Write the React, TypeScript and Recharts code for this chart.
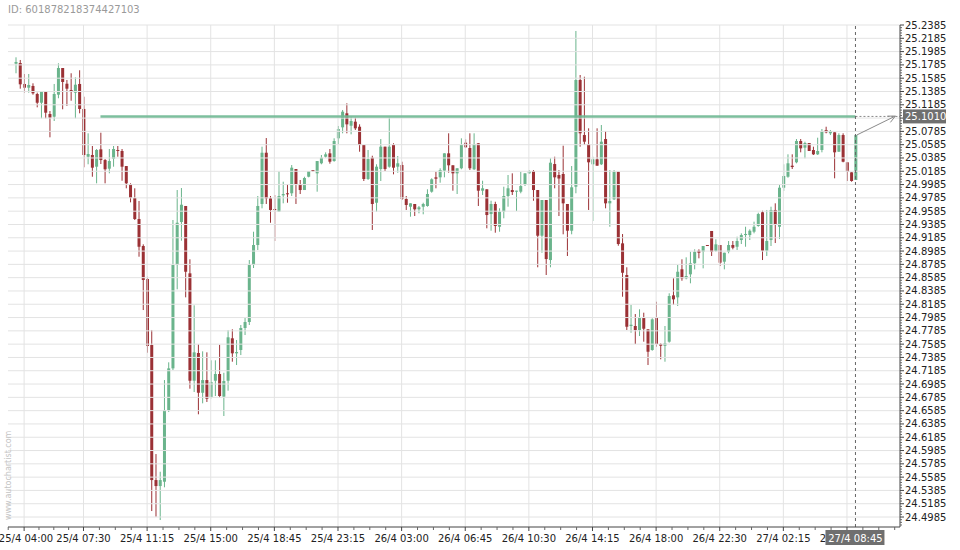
import React from "react";
import { ComposedChart, Bar, XAxis, YAxis, ReferenceLine } from "recharts";

// ── Data (15 min candles) ────────────────────────────────────

const opens = [
  25.1803, 25.1813, 25.1498, 25.1442, 25.1468, 25.1347, 25.1216, 25.1377, 25.1046, 25.1006,
  25.1337, 25.1738, 25.1502, 25.1407, 25.1367, 25.1498, 25.1122, 25.0404, 25.043, 25.0254,
  25.0515, 25.0354, 25.0224, 25.0374, 25.0505, 25.049, 25.0264, 24.9993, 24.9783, 24.9467,
  24.9061, 24.8565, 24.7572, 24.5541, 24.5451, 24.5516, 24.6594, 24.7221, 24.8775, 24.9422,
  24.9663, 24.865, 24.7035, 24.7452, 24.6854, 24.7045, 24.679, 24.7035, 24.7136, 24.6794,
  24.7035, 24.7673, 24.7447, 24.7497, 24.7828, 24.7918, 24.8775, 24.9076, 24.9693, 25.0464,
  24.9778, 24.9617, 24.9577, 24.9823, 24.9854, 24.9854, 25.0219, 24.9993, 24.9903, 25.0103,
  25.0204, 25.0154, 25.0305, 25.0404, 25.0455, 25.0339, 25.0681, 25.0846, 25.1057, 25.087,
  25.0931, 25.0855, 25.058, 25.0069, 25.0389, 24.9712, 25.0219, 25.0555, 25.0254, 25.058,
  25.0254, 25.0279, 24.9768, 24.9652, 24.9693, 24.9613, 24.9652, 24.9663, 24.9878, 25.0094,
  25.0094, 25.0194, 25.0455, 25.0275, 25.0154, 25.023, 25.0615, 25.0535, 25.0215, 25.0606,
  24.9893, 24.9914, 24.9542, 24.9693, 24.9351, 24.9577, 24.9813, 24.9903, 24.9878, 24.9878,
  24.9993, 25.0154, 25.0189, 24.9903, 24.9216, 24.9753, 24.885, 25.0294, 25.0129, 25.0144,
  24.9693, 24.9291, 24.9953, 25.1558, 25.073, 25.0591, 25.029, 25.0365, 25.029, 25.067,
  24.9703, 24.9763, 25.0178, 24.9101, 24.8625, 24.7858, 24.7858, 24.7798, 24.7978, 24.7808,
  24.7497, 24.7978, 24.7587, 24.7561, 24.7622, 24.8319, 24.8289, 24.8711, 24.8575, 24.8635,
  24.8801, 24.899, 24.8975, 24.9076, 24.9287, 24.8986, 24.9076, 24.8825, 24.8975, 24.9076,
  24.905, 24.9151, 24.9226, 24.9226, 24.9276, 24.9362, 24.9568, 24.899, 24.9151, 24.9603,
  24.9351, 24.9938, 25.0103, 25.0269, 25.032, 25.064, 25.054, 25.061, 25.0505, 25.044,
  25.0505, 25.0806, 25.0756, 25.0771, 25.0479, 25.073, 25.032, 25.0169, 25.0054,
];

const highs = [
  25.1899, 25.1859, 25.1648, 25.1648, 25.1508, 25.1367, 25.1377, 25.1377, 25.1091, 25.1498,
  25.1809, 25.1738, 25.1558, 25.1659, 25.1598, 25.1704, 25.1307, 25.0756, 25.0565, 25.052,
  25.0765, 25.0369, 25.052, 25.0565, 25.0565, 25.052, 25.0264, 25.0004, 24.9929, 24.9738,
  24.9086, 24.8599, 24.7798, 24.5932, 24.5666, 24.7045, 24.7312, 24.9452, 24.9903, 24.9933,
  24.9663, 24.8861, 24.8169, 24.7582, 24.7477, 24.7462, 24.7342, 24.7342, 24.7576, 24.7155,
  24.7798, 24.7808, 24.7647, 24.7873, 24.7978, 24.885, 24.9276, 24.9813, 25.0555, 25.0685,
  24.9813, 24.9828, 25.0184, 25.0028, 24.9993, 25.0279, 25.0219, 25.0054, 25.0103, 25.0189,
  25.0204, 25.0339, 25.043, 25.047, 25.052, 25.0681, 25.0866, 25.1107, 25.1207, 25.1006,
  25.0991, 25.0891, 25.058, 25.0505, 25.0419, 25.029, 25.067, 25.0555, 25.0991, 25.0606,
  25.0415, 25.0329, 24.9813, 24.9703, 24.9693, 24.9663, 24.9712, 24.9914, 25.0079, 25.0178,
  25.023, 25.0455, 25.0756, 25.0275, 25.023, 25.0681, 25.0666, 25.0756, 25.0756, 25.0606,
  25.0043, 24.9914, 24.9742, 24.9727, 24.9628, 24.9953, 25.0129, 25.0154, 24.9893, 25.0178,
  25.0154, 25.0204, 25.0204, 24.9903, 24.9753, 24.9753, 25.038, 25.0404, 25.0204, 25.057,
  24.9693, 25.0264, 25.2295, 25.1633, 25.1607, 25.0831, 25.0404, 25.0831, 25.0881, 25.0791,
  25.0204, 25.0204, 25.0178, 24.9241, 24.8741, 24.8174, 24.8038, 24.8109, 24.8058, 24.7808,
  24.7974, 24.8223, 24.7597, 24.7858, 24.835, 24.8575, 24.8775, 24.8861, 24.8891, 24.8975,
  24.9011, 24.9011, 24.9061, 24.9076, 24.9287, 24.9162, 24.9076, 24.896, 24.9136, 24.9136,
  24.9201, 24.9252, 24.9351, 24.9312, 24.9427, 24.9562, 24.9592, 24.9603, 24.9652, 24.9703,
  24.9978, 25.029, 25.044, 25.044, 25.067, 25.067, 25.063, 25.061, 25.0555, 25.069,
  25.0821, 25.0855, 25.0806, 25.0771, 25.0756, 25.0756, 25.032, 25.0169, 25.073,
];

const lows = [
  25.1659, 25.1427, 25.1367, 25.1367, 25.1337, 25.1147, 25.0982, 25.0982, 25.0696, 25.0941,
  25.1283, 25.1117, 25.1167, 25.1246, 25.0982, 25.1057, 25.0245, 25.029, 25.0103, 25.0004,
  25.0294, 25.0004, 25.0154, 25.0254, 25.0404, 25.0043, 24.9929, 24.9718, 24.9452, 24.89,
  24.8098, 24.7456, 24.5075, 24.4989, 24.494, 24.5432, 24.6564, 24.7196, 24.841, 24.9141,
  24.8289, 24.6915, 24.6865, 24.653, 24.6695, 24.6715, 24.677, 24.6805, 24.6785, 24.6504,
  24.6885, 24.7321, 24.7271, 24.7421, 24.7722, 24.7873, 24.873, 24.9001, 24.9628, 24.9693,
  24.9411, 24.9136, 24.9577, 24.9703, 24.9712, 24.9813, 24.9693, 24.9843, 24.9903, 25.0094,
  25.0178, 24.9878, 25.029, 25.0389, 25.0299, 25.0329, 25.0591, 25.0756, 25.0756, 25.0741,
  25.0806, 25.0479, 25.0039, 25.0054, 24.9302, 24.9577, 25.0039, 25.0189, 25.0239, 25.0139,
  25.0163, 24.9753, 24.9603, 24.9502, 24.9512, 24.9553, 24.9538, 24.9652, 24.9863, 24.9929,
  25.0013, 25.0094, 25.0164, 24.9893, 24.9843, 25.0215, 25.0535, 25.0204, 25.0204, 24.9663,
  24.9828, 24.9327, 24.9291, 24.9261, 24.9276, 24.9478, 24.9652, 24.9828, 24.9587, 24.9854,
  24.9963, 25.0144, 24.9742, 24.8741, 24.896, 24.8625, 24.8741, 24.9929, 24.9512, 24.9237,
  24.8911, 24.9237, 24.9854, 25.0555, 25.058, 24.9603, 24.9437, 25.0269, 25.0279, 24.9628,
  24.9351, 24.9753, 24.9065, 24.8298, 24.7798, 24.7757, 24.7587, 24.7707, 24.7622, 24.7271,
  24.7486, 24.7546, 24.7357, 24.7321, 24.7607, 24.8174, 24.8159, 24.8539, 24.856, 24.85,
  24.871, 24.8876, 24.8725, 24.9061, 24.8911, 24.8975, 24.876, 24.871, 24.8951, 24.9011,
  24.9001, 24.9091, 24.905, 24.9151, 24.9252, 24.9351, 24.885, 24.8911, 24.9061, 24.9106,
  24.9166, 24.9888, 25.0088, 25.0219, 25.0305, 25.047, 25.038, 25.049, 25.043, 25.043,
  25.047, 25.0756, 25.073, 25.0079, 25.0479, 25.032, 25.0039, 25.0028, 25.0054,
];

const closes = [
  25.1829, 25.1493, 25.1442, 25.1483, 25.1358, 25.1216, 25.1377, 25.1066, 25.0991, 25.1347,
  25.1738, 25.1528, 25.1427, 25.1377, 25.1487, 25.1122, 25.043, 25.0445, 25.0239, 25.0505,
  25.0354, 25.0215, 25.0339, 25.052, 25.049, 25.0254, 25.0004, 24.9787, 24.9467, 24.905,
  24.855, 24.7557, 24.5541, 24.5451, 24.5541, 24.6594, 24.7221, 24.8775, 24.9411, 24.9682,
  24.8674, 24.7035, 24.7462, 24.6854, 24.7045, 24.6764, 24.7015, 24.7136, 24.6805, 24.703,
  24.7688, 24.7447, 24.7467, 24.7828, 24.7918, 24.8775, 24.9076, 24.9663, 25.0464, 24.9778,
  24.9603, 24.961, 24.9813, 24.9843, 24.9843, 25.0239, 24.9993, 24.9903, 25.0084, 25.0189,
  25.0194, 25.0339, 25.0389, 25.044, 25.0329, 25.064, 25.0821, 25.1081, 25.0891, 25.0941,
  25.0831, 25.058, 25.0069, 25.0369, 24.9693, 25.0254, 25.0555, 25.0219, 25.0555, 25.0239,
  25.0305, 24.9768, 24.9678, 24.9703, 24.9613, 24.9643, 24.9693, 24.9843, 25.0064, 25.0073,
  25.0204, 25.0455, 25.0275, 25.0154, 25.023, 25.058, 25.0546, 25.023, 25.0595, 24.9893,
  24.9929, 24.9527, 24.9693, 24.9362, 24.9577, 24.9813, 24.9929, 24.9873, 24.9893, 24.9963,
  25.0154, 25.0189, 24.9903, 24.9216, 24.9753, 24.8865, 25.0314, 25.0094, 25.0076, 24.9703,
  24.9291, 24.9944, 25.1558, 25.0756, 25.063, 25.032, 25.0365, 25.0269, 25.063, 24.9703,
  24.9738, 25.0178, 24.9091, 24.8659, 24.7847, 24.7877, 24.7798, 24.7978, 24.7817, 24.7471,
  24.7958, 24.7587, 24.7561, 24.7597, 24.8309, 24.8259, 24.8674, 24.8575, 24.861, 24.8801,
  24.8975, 24.896, 24.9061, 24.9065, 24.8975, 24.9086, 24.881, 24.896, 24.9076, 24.9035,
  24.9136, 24.9226, 24.9242, 24.9291, 24.9351, 24.9542, 24.899, 24.9136, 24.9603, 24.9377,
  24.9938, 25.0114, 25.0305, 25.0249, 25.064, 25.053, 25.061, 25.049, 25.044, 25.049,
  25.0791, 25.0771, 25.0791, 25.047, 25.073, 25.0329, 25.0178, 25.0039, 25.073,
];

// price axis labels
const priceTicks = [
  25.2385, 25.2185, 25.1985, 25.1785, 25.1585, 25.1385, 25.1185, 25.0985, 25.0785, 25.0585,
  25.0385, 25.0185, 24.9985, 24.9785, 24.9585, 24.9385, 24.9185, 24.8985, 24.8785, 24.8585,
  24.8385, 24.8185, 24.7985, 24.7785, 24.7585, 24.7385, 24.7185, 24.6985, 24.6785, 24.6585,
  24.6385, 24.6185, 24.5985, 24.5785, 24.5585, 24.5385, 24.5185, 24.4985,
];

// time axis labels (candle index -> label)
const timeTickIndex = [2, 16, 31, 46, 61, 76, 91, 106, 121, 136, 151, 166, 181, 196];
const timeTickLabels = [
  "25/4 04:00", "25/4 07:30", "25/4 11:15", "25/4 15:00", "25/4 18:45", "25/4 23:15", "26/4 03:00",
  "26/4 06:45", "26/4 10:30", "26/4 14:15", "26/4 18:00", "26/4 22:30", "27/4 02:15", "27/4 06:00",
];

const lastIndex = 198;
const lastLabel = "27/4 08:45";
const levelPrice = 25.101;
const levelLabel = "25.1010";
const levelStart = 20;

// ── Styling ──────────────────────────────────────────────────

const RED = "#9b3135";
const GREEN = "#6ab48c";
const GRID = "#e3e3e3";
const FONT = "DejaVu Sans, Verdana, sans-serif";
const X_DOMAIN = [-1.8, 208.5];
const Y_DOMAIN = [24.4835, 25.2385];

const candles = opens.map((open, i) => ({
  i,
  open,
  high: highs[i],
  low: lows[i],
  close: closes[i],
  range: [lows[i], highs[i]],
}));

// minor ticks between the labelled ones
const minorPrice: number[] = [];
for (let k = 0; k < priceTicks.length - 1; k++) {
  for (let m = 1; m < 5; m++) minorPrice.push(priceTicks[k + 1] + ((priceTicks[k] - priceTicks[k + 1]) * m) / 5);
}
for (let m = 1; m < 4; m++) minorPrice.push(priceTicks[priceTicks.length - 1] - 0.004 * m);

const minorTime: number[] = [timeTickIndex[0] - 3.75];
for (let k = 0; k < timeTickIndex.length - 1; k++) {
  const step = (timeTickIndex[k + 1] - timeTickIndex[k]) / 4;
  for (let m = 1; m < 4; m++) minorTime.push(timeTickIndex[k] + step * m);
}
for (let m = 1; m < 4; m++) minorTime.push(timeTickIndex[timeTickIndex.length - 1] + 3.75 * m);

function Candle(props: any) {
  const { x, y, width, height, payload } = props;
  if (!payload) return null;
  const { open, close, high, low } = payload;
  const color = close >= open ? GREEN : RED;
  const top = Math.min(y, y + height);
  const h = Math.abs(height);
  const span = high - low || 1;
  const py = (v: number) => top + ((high - v) / span) * h;
  const cx = x + width / 2;
  const b1 = py(Math.max(open, close));
  const b2 = py(Math.min(open, close));
  return (
    <g>
      <line x1={cx} x2={cx} y1={top} y2={top + h} stroke={color} strokeWidth={1} />
      <rect x={cx - 1.5} y={b1} width={3} height={Math.max(b2 - b1, 1)} fill={color} />
    </g>
  );
}

function PriceTick(props: any) {
  const { x, y, payload } = props;
  const v = payload.value;
  if (v === levelPrice) {
    return (
      <g>
        <rect x={x + 3} y={y - 7} width={43} height={14} fill="#6f6f6f" />
        <text x={x + 5} y={y + 3.5} fill="#fff" fontSize={10} fontFamily={FONT}>
          {levelLabel}
        </text>
      </g>
    );
  }
  if (priceTicks.includes(v)) {
    return (
      <g>
        <line x1={x} x2={x + 4} y1={y} y2={y} stroke="#444" />
        <text x={x + 5} y={y + 3.5} fill="#222" fontSize={10} fontFamily={FONT}>
          {v.toFixed(4)}
        </text>
      </g>
    );
  }
  return <line x1={x} x2={x + 2} y1={y} y2={y} stroke="#666" />;
}

function TimeTick(props: any) {
  const { x, y, payload } = props;
  const v = payload.value;
  if (v === lastIndex) {
    return (
      <g>
        <rect x={x - 30} y={y + 3} width={59} height={15} fill="#6f6f6f" />
        <text x={x} y={y + 14.5} textAnchor="middle" fill="#fff" fontSize={10} fontFamily={FONT}>
          {lastLabel}
        </text>
      </g>
    );
  }
  const idx = timeTickIndex.indexOf(v);
  if (idx >= 0) {
    // keep the first label inside the picture
    const tx = Math.max(x, 26);
    return (
      <g>
        <line x1={x} x2={x} y1={y} y2={y + 4} stroke="#444" />
        <text x={tx} y={y + 15} textAnchor="middle" fill="#222" fontSize={10} fontFamily={FONT}>
          {timeTickLabels[idx]}
        </text>
      </g>
    );
  }
  return <line x1={x} x2={x} y1={y} y2={y + 3} stroke="#666" />;
}

function Arrow(props: any) {
  const { x1, y1, x2, y2 } = props;
  if ([x1, y1, x2, y2].some((n) => typeof n !== "number")) return null;
  const a = Math.atan2(y2 - y1, x2 - x1);
  const l = 8;
  const p1 = [x2 - l * Math.cos(a - 0.45), y2 - l * Math.sin(a - 0.45)];
  const p2 = [x2 - l * Math.cos(a + 0.45), y2 - l * Math.sin(a + 0.45)];
  return (
    <g stroke="#8a8a8a" strokeWidth={1} fill="none">
      <line x1={x1} y1={y1} x2={x2} y2={y2} />
      <polyline points={`${p1[0]},${p1[1]} ${x2},${y2} ${p2[0]},${p2[1]}`} />
    </g>
  );
}

export default function App() {
  return (
    <div style={{ position: "relative", width: 960, height: 550, background: "#fff" }}>
      <style>{"body{margin:0}"}</style>
      <ComposedChart
        width={960}
        height={550}
        data={candles}
        margin={{ top: 25, right: 0, bottom: 0, left: 8 }}
      >
        <XAxis
          dataKey="i"
          type="number"
          domain={X_DOMAIN}
          allowDataOverflow
          ticks={[...minorTime, ...timeTickIndex, lastIndex]}
          interval={0}
          tick={<TimeTick />}
          tickSize={0}
          tickMargin={0}
          tickLine={false}
          height={23}
          axisLine={{ stroke: "#444" }}
        />
        <YAxis
          orientation="right"
          type="number"
          domain={Y_DOMAIN}
          allowDataOverflow
          ticks={[...minorPrice, ...priceTicks, levelPrice]}
          interval={0}
          tick={<PriceTick />}
          tickSize={0}
          tickMargin={0}
          tickLine={false}
          width={60}
          axisLine={{ stroke: "#444" }}
        />
        {/* grid lines on the labelled ticks only */}
        {priceTicks.map((v) => (
          <ReferenceLine key={`h${v}`} y={v} stroke={GRID} />
        ))}
        {timeTickIndex.map((v) => (
          <ReferenceLine key={`v${v}`} x={v} stroke={GRID} />
        ))}
        <Bar dataKey="range" shape={<Candle />} barSize={3} isAnimationActive={false} />
        <ReferenceLine
          segment={[
            { x: levelStart, y: levelPrice },
            { x: lastIndex, y: levelPrice },
          ]}
          stroke="#6fb893"
          strokeWidth={2.5}
          strokeOpacity={0.9}
        />
        <ReferenceLine
          segment={[
            { x: lastIndex, y: levelPrice },
            { x: X_DOMAIN[1], y: levelPrice },
          ]}
          stroke="#888"
          strokeDasharray="2 2"
        />
        <ReferenceLine x={lastIndex} stroke="#666" strokeDasharray="3 3" />
        <ReferenceLine
          segment={[
            { x: lastIndex + 0.3, y: closes[closes.length - 1] },
            { x: 207.4, y: levelPrice + 0.0005 },
          ]}
          shape={<Arrow />}
        />
      </ComposedChart>
      <div
        style={{
          position: "absolute",
          left: 8,
          top: 4,
          fontFamily: FONT,
          fontSize: 10,
          color: "#9a9a9a",
        }}
      >
        ID: 601878218374427103
      </div>
      <div
        style={{
          position: "absolute",
          left: 4,
          top: 520,
          transform: "rotate(-90deg)",
          transformOrigin: "0 0",
          fontFamily: FONT,
          fontSize: 8,
          color: "#c4c4c4",
          whiteSpace: "nowrap",
        }}
      >
        www.autochartist.com
      </div>
    </div>
  );
}
